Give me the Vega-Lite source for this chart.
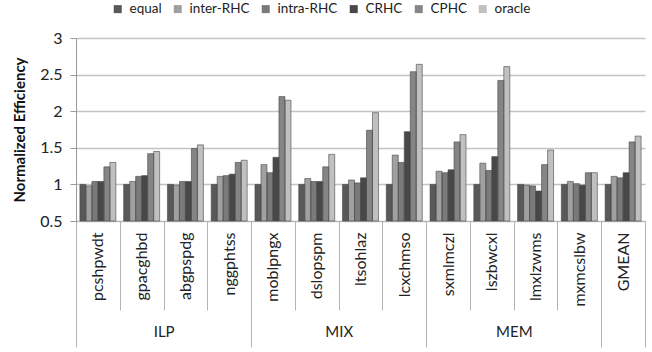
{
  "$schema": "https://vega.github.io/schema/vega-lite/v6.json",
  "width": 569,
  "height": 183,
  "autosize": "none",
  "padding": {"left": 76, "top": 38, "right": 7, "bottom": 131},
  "background": "white",
  "config": {"view": {"stroke": null}, "font": "Lato"},
  "data": {
    "values": [
      {"group": "ILP", "bench": "pcshpwdt", "series": "equal", "v": 1.00},
      {"group": "ILP", "bench": "pcshpwdt", "series": "inter-RHC", "v": 0.98},
      {"group": "ILP", "bench": "pcshpwdt", "series": "intra-RHC", "v": 1.04},
      {"group": "ILP", "bench": "pcshpwdt", "series": "CRHC", "v": 1.04},
      {"group": "ILP", "bench": "pcshpwdt", "series": "CPHC", "v": 1.24},
      {"group": "ILP", "bench": "pcshpwdt", "series": "oracle", "v": 1.30},
      {"group": "ILP", "bench": "gpacghbd", "series": "equal", "v": 1.00},
      {"group": "ILP", "bench": "gpacghbd", "series": "inter-RHC", "v": 1.04},
      {"group": "ILP", "bench": "gpacghbd", "series": "intra-RHC", "v": 1.11},
      {"group": "ILP", "bench": "gpacghbd", "series": "CRHC", "v": 1.12},
      {"group": "ILP", "bench": "gpacghbd", "series": "CPHC", "v": 1.42},
      {"group": "ILP", "bench": "gpacghbd", "series": "oracle", "v": 1.45},
      {"group": "ILP", "bench": "abgpspdg", "series": "equal", "v": 1.00},
      {"group": "ILP", "bench": "abgpspdg", "series": "inter-RHC", "v": 0.99},
      {"group": "ILP", "bench": "abgpspdg", "series": "intra-RHC", "v": 1.04},
      {"group": "ILP", "bench": "abgpspdg", "series": "CRHC", "v": 1.04},
      {"group": "ILP", "bench": "abgpspdg", "series": "CPHC", "v": 1.49},
      {"group": "ILP", "bench": "abgpspdg", "series": "oracle", "v": 1.54},
      {"group": "ILP", "bench": "nggphtss", "series": "equal", "v": 1.00},
      {"group": "ILP", "bench": "nggphtss", "series": "inter-RHC", "v": 1.11},
      {"group": "ILP", "bench": "nggphtss", "series": "intra-RHC", "v": 1.12},
      {"group": "ILP", "bench": "nggphtss", "series": "CRHC", "v": 1.14},
      {"group": "ILP", "bench": "nggphtss", "series": "CPHC", "v": 1.30},
      {"group": "ILP", "bench": "nggphtss", "series": "oracle", "v": 1.33},
      {"group": "MIX", "bench": "moblpngx", "series": "equal", "v": 1.00},
      {"group": "MIX", "bench": "moblpngx", "series": "inter-RHC", "v": 1.27},
      {"group": "MIX", "bench": "moblpngx", "series": "intra-RHC", "v": 1.16},
      {"group": "MIX", "bench": "moblpngx", "series": "CRHC", "v": 1.37},
      {"group": "MIX", "bench": "moblpngx", "series": "CPHC", "v": 2.20},
      {"group": "MIX", "bench": "moblpngx", "series": "oracle", "v": 2.15},
      {"group": "MIX", "bench": "dslopspm", "series": "equal", "v": 1.00},
      {"group": "MIX", "bench": "dslopspm", "series": "inter-RHC", "v": 1.08},
      {"group": "MIX", "bench": "dslopspm", "series": "intra-RHC", "v": 1.04},
      {"group": "MIX", "bench": "dslopspm", "series": "CRHC", "v": 1.04},
      {"group": "MIX", "bench": "dslopspm", "series": "CPHC", "v": 1.24},
      {"group": "MIX", "bench": "dslopspm", "series": "oracle", "v": 1.41},
      {"group": "MIX", "bench": "ltsohlaz", "series": "equal", "v": 1.00},
      {"group": "MIX", "bench": "ltsohlaz", "series": "inter-RHC", "v": 1.06},
      {"group": "MIX", "bench": "ltsohlaz", "series": "intra-RHC", "v": 1.02},
      {"group": "MIX", "bench": "ltsohlaz", "series": "CRHC", "v": 1.09},
      {"group": "MIX", "bench": "ltsohlaz", "series": "CPHC", "v": 1.74},
      {"group": "MIX", "bench": "ltsohlaz", "series": "oracle", "v": 1.98},
      {"group": "MIX", "bench": "lcxchmso", "series": "equal", "v": 1.00},
      {"group": "MIX", "bench": "lcxchmso", "series": "inter-RHC", "v": 1.40},
      {"group": "MIX", "bench": "lcxchmso", "series": "intra-RHC", "v": 1.30},
      {"group": "MIX", "bench": "lcxchmso", "series": "CRHC", "v": 1.72},
      {"group": "MIX", "bench": "lcxchmso", "series": "CPHC", "v": 2.54},
      {"group": "MIX", "bench": "lcxchmso", "series": "oracle", "v": 2.64},
      {"group": "MEM", "bench": "sxmlmczl", "series": "equal", "v": 1.00},
      {"group": "MEM", "bench": "sxmlmczl", "series": "inter-RHC", "v": 1.18},
      {"group": "MEM", "bench": "sxmlmczl", "series": "intra-RHC", "v": 1.16},
      {"group": "MEM", "bench": "sxmlmczl", "series": "CRHC", "v": 1.20},
      {"group": "MEM", "bench": "sxmlmczl", "series": "CPHC", "v": 1.58},
      {"group": "MEM", "bench": "sxmlmczl", "series": "oracle", "v": 1.68},
      {"group": "MEM", "bench": "lszbwcxl", "series": "equal", "v": 1.00},
      {"group": "MEM", "bench": "lszbwcxl", "series": "inter-RHC", "v": 1.29},
      {"group": "MEM", "bench": "lszbwcxl", "series": "intra-RHC", "v": 1.19},
      {"group": "MEM", "bench": "lszbwcxl", "series": "CRHC", "v": 1.38},
      {"group": "MEM", "bench": "lszbwcxl", "series": "CPHC", "v": 2.42},
      {"group": "MEM", "bench": "lszbwcxl", "series": "oracle", "v": 2.61},
      {"group": "MEM", "bench": "lmxlzwms", "series": "equal", "v": 1.00},
      {"group": "MEM", "bench": "lmxlzwms", "series": "inter-RHC", "v": 0.99},
      {"group": "MEM", "bench": "lmxlzwms", "series": "intra-RHC", "v": 0.98},
      {"group": "MEM", "bench": "lmxlzwms", "series": "CRHC", "v": 0.91},
      {"group": "MEM", "bench": "lmxlzwms", "series": "CPHC", "v": 1.27},
      {"group": "MEM", "bench": "lmxlzwms", "series": "oracle", "v": 1.47},
      {"group": "MEM", "bench": "mxmcslbw", "series": "equal", "v": 1.00},
      {"group": "MEM", "bench": "mxmcslbw", "series": "inter-RHC", "v": 1.04},
      {"group": "MEM", "bench": "mxmcslbw", "series": "intra-RHC", "v": 1.01},
      {"group": "MEM", "bench": "mxmcslbw", "series": "CRHC", "v": 0.99},
      {"group": "MEM", "bench": "mxmcslbw", "series": "CPHC", "v": 1.16},
      {"group": "MEM", "bench": "mxmcslbw", "series": "oracle", "v": 1.16},
      {"group": "", "bench": "GMEAN", "series": "equal", "v": 1.00},
      {"group": "", "bench": "GMEAN", "series": "inter-RHC", "v": 1.11},
      {"group": "", "bench": "GMEAN", "series": "intra-RHC", "v": 1.09},
      {"group": "", "bench": "GMEAN", "series": "CRHC", "v": 1.16},
      {"group": "", "bench": "GMEAN", "series": "CPHC", "v": 1.58},
      {"group": "", "bench": "GMEAN", "series": "oracle", "v": 1.66}
    ]
  },
  "encoding": {
    "xOffset": {
      "field": "series",
      "type": "nominal",
      "sort": ["equal", "inter-RHC", "intra-RHC", "CRHC", "CPHC", "oracle"],
      "scale": {"paddingInner": 0, "paddingOuter": 0.65}
    },
    "y": {
      "field": "v",
      "type": "quantitative",
      "scale": {"domain": [0.5, 3], "zero": false, "nice": false},
      "axis": {
        "title": "Normalized Efficiency",
        "titleFont": "Lato",
        "titleFontSize": 15,
        "titleFontWeight": "bold",
        "titleColor": "#111",
        "titlePadding": 12,
        "values": [0.5, 1, 1.5, 2, 2.5, 3],
        "format": "~g",
        "labelFontSize": 16,
        "labelColor": "#222",
        "labelPadding": 8,
        "tickSize": 6,
        "tickColor": "#9a9a9a",
        "domainColor": "#9a9a9a",
        "gridColor": "#c4c4c4",
        "gridWidth": 1.5
      }
    },
    "y2": {"datum": 0.5}
  },
  "layer": [
    {
      "mark": {"type": "bar"},
      "encoding": {
        "x": {
          "field": "bench",
          "type": "nominal",
          "sort": ["pcshpwdt", "gpacghbd", "abgpspdg", "nggphtss", "moblpngx", "dslopspm", "ltsohlaz", "lcxchmso", "sxmlmczl", "lszbwcxl", "lmxlzwms", "mxmcslbw", "GMEAN"],
          "scale": {"paddingInner": 0, "paddingOuter": 0},
          "axis": {
            "title": null,
            "orient": "bottom",
            "tickBand": "extent",
            "tickSize": 89,
            "tickColor": "#b4b4b4",
            "domainColor": "#b4b4b4",
            "labelAngle": -90,
            "labelPadding": -78,
            "labelFontSize": 16,
            "labelColor": "#222"
          }
        },
        "color": {
          "field": "series",
          "type": "nominal",
          "sort": ["equal", "inter-RHC", "intra-RHC", "CRHC", "CPHC", "oracle"],
          "scale": {
            "domain": ["equal", "inter-RHC", "intra-RHC", "CRHC", "CPHC", "oracle"],
            "range": ["#595959", "#a0a0a0", "#7a7a7a", "#484848", "#858585", "#c0c0c0"]
          },
          "legend": {
            "title": null,
            "orient": "none",
            "direction": "horizontal",
            "legendX": 35,
            "legendY": -36,
            "symbolType": "square",
            "symbolSize": 64,
            "symbolStrokeWidth": 0,
            "labelFontSize": 13.5,
            "labelColor": "#222",
            "columnPadding": 9,
            "labelOffset": 5
          }
        }
      }
    },
    {
      "mark": {"type": "bar", "filled": false, "stroke": "#474747", "strokeWidth": 0.6},
      "encoding": {
        "x": {
          "field": "bench",
          "type": "nominal",
          "sort": ["pcshpwdt", "gpacghbd", "abgpspdg", "nggphtss", "moblpngx", "dslopspm", "ltsohlaz", "lcxchmso", "sxmlmczl", "lszbwcxl", "lmxlzwms", "mxmcslbw", "GMEAN"],
          "axis": {
            "title": null,
            "orient": "bottom",
            "domain": false,
            "tickBand": "extent",
            "tickSize": 126,
            "tickColor": "#b4b4b4",
            "tickOpacity": {
              "condition": {"test": "!datum.value || indexof(['nggphtss', 'lcxchmso', 'mxmcslbw', 'GMEAN'], datum.value) >= 0", "value": 1},
              "value": 0
            },
            "labelExpr": "datum.value == 'gpacghbd' ? 'ILP' : datum.value == 'dslopspm' ? 'MIX' : datum.value == 'lszbwcxl' ? 'MEM' : ''",
            "labelAngle": 0,
            "labelOffset": 22,
            "labelPadding": -23,
            "labelFontSize": 15,
            "labelColor": "#222"
          }
        }
      }
    }
  ],
  "resolve": {"axis": {"x": "independent"}}
}
